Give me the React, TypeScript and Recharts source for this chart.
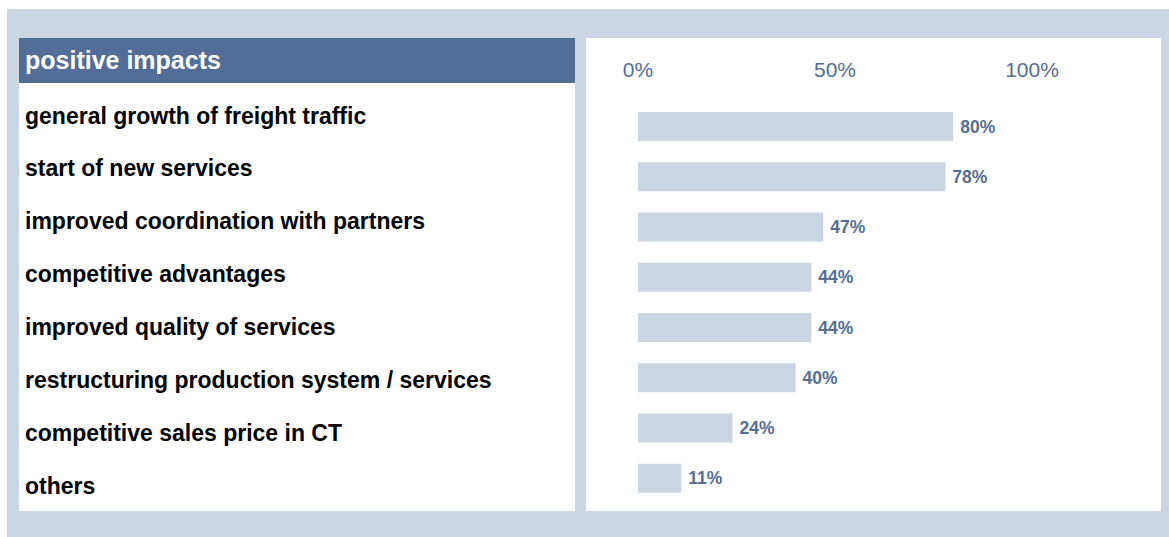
import { BarChart, Bar, XAxis, YAxis, LabelList } from 'recharts';

const categories = [
  'general growth of freight traffic',
  'start of new services',
  'improved coordination with partners',
  'competitive advantages',
  'improved quality of services',
  'restructuring production system / services',
  'competitive sales price in CT',
  'others',
];
const shares = [80, 78, 47, 44, 44, 40, 24, 11];
const xTicks = [0, 50, 100];
const headerTitle = 'positive impacts';

const BG = '#ccd6e2';
const HEADER = '#536e96';
const ACCENT = '#566d94';
const FONT = '"Liberation Sans", Arial, sans-serif';

const data = categories.map((name, i) => ({ name, value: shares[i] }));

const App = () => {
  return (
    <div style={{ position: 'absolute', left: 7, top: 9, width: 1162, height: 528, background: BG, fontFamily: FONT }}>
      {/* colonne des libellés */}
      <div style={{ position: 'absolute', left: 12, top: 29, width: 556, height: 473, background: '#fff', overflow: 'hidden' }}>
        <div style={{ height: 45, background: HEADER, color: '#fff', fontWeight: 'bold', fontSize: 25, lineHeight: '45px', paddingLeft: 6 }}>
          {headerTitle}
        </div>
        <div style={{ marginTop: 6.5 }}>
          {categories.map((c) => (
            <div key={c} style={{ height: 52.86, lineHeight: '52.86px', paddingLeft: 6, fontWeight: 'bold', fontSize: 23, color: '#000', whiteSpace: 'nowrap' }}>
              {c}
            </div>
          ))}
        </div>
      </div>

      {/* graphique */}
      <div style={{ position: 'absolute', left: 579, top: 29, width: 575, height: 473, background: '#fff' }}>
        <BarChart width={575} height={473} data={data} layout="vertical" margin={{ top: 0, right: 129, bottom: 8, left: 52 }} barCategoryGap={21}>
          <XAxis
            type="number"
            orientation="top"
            domain={[0, 100]}
            ticks={xTicks}
            tickFormatter={(v: number) => `${v}%`}
            axisLine={false}
            tickLine={false}
            tickSize={0}
            tickMargin={24}
            height={63}
            tick={{ fill: ACCENT, fontSize: 21, fontFamily: FONT }}
            interval={0}
          />
          <YAxis type="category" dataKey="name" hide />
          <Bar dataKey="value" fill={BG} barSize={29} isAnimationActive={false}>
            <LabelList
              dataKey="value"
              position="right"
              offset={7}
              formatter={(v: any) => `${v}%`}
              style={{ fill: ACCENT, fontWeight: 'bold', fontSize: 17.5, fontFamily: FONT }}
            />
          </Bar>
        </BarChart>
      </div>
    </div>
  );
};

export default App;
